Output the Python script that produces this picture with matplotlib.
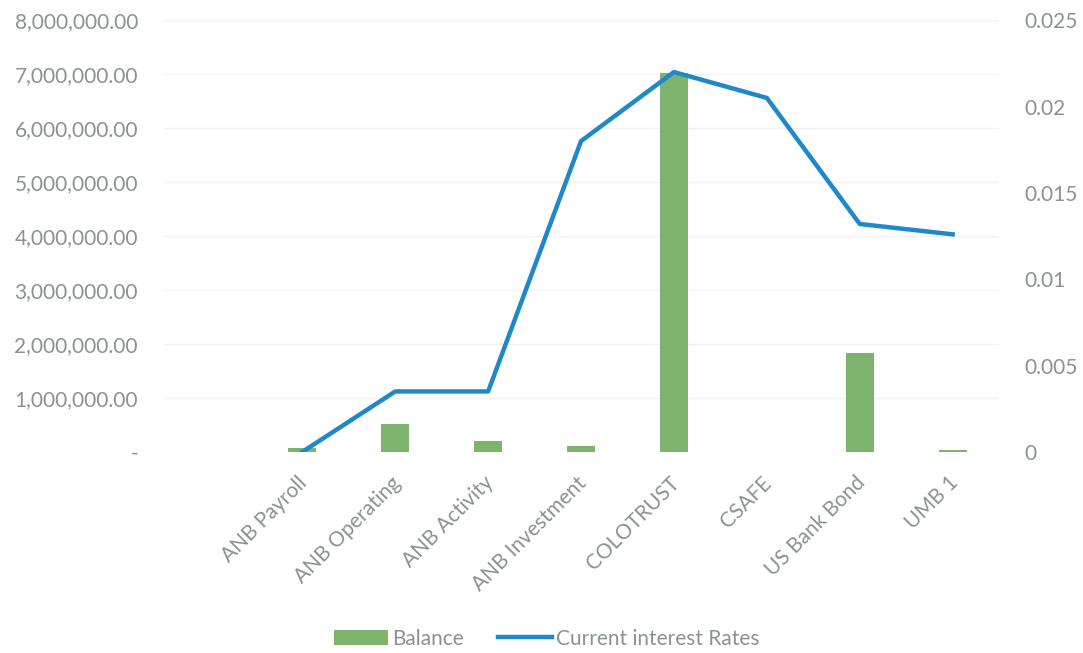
import matplotlib.pyplot as plt
import matplotlib.transforms as mtransforms
import numpy as np
from matplotlib.ticker import FuncFormatter

plt.rcParams['font.family'] = ['Lato', 'DejaVu Sans']

# first slot is an empty category in the source chart
accounts = ["", "ANB Payroll", "ANB Operating", "ANB Activity", "ANB Investment",
            "COLOTRUST", "CSAFE", "US Bank Bond", "UMB 1"]
balance = [np.nan, 70000, 520000, 200000, 110000, 7020000, 0, 1830000, 40000]
rates = [np.nan, 0.0, 0.0035, 0.0035, 0.018, 0.022, 0.0205, 0.0132, 0.0126]

grey = "#8c9191"
green = "#7db36d"
blue = "#1f88c9"

fig = plt.figure(figsize=(10.83, 6.53), dpi=100)
ax = fig.add_axes([0.1505, 0.308, 0.772, 0.661])
ax2 = ax.twinx()

x = np.arange(len(accounts))
ax.bar(x, balance, width=0.3, color=green, label="Balance", zorder=2)
ax2.plot(x, rates, color=blue, lw=3.2, label="Current interest Rates", zorder=3)

ax.set_xlim(-0.5, len(accounts) - 0.5)
ax.set_ylim(0, 8000000)
ax.set_yticks(np.arange(0, 8000001, 1000000))
ax.yaxis.set_major_formatter(FuncFormatter(lambda v, p: "-" if v == 0 else f"{v:,.2f}"))
ax2.set_ylim(0, 0.025)
ax2.set_yticks([0, 0.005, 0.01, 0.015, 0.02, 0.025])
ax2.set_yticklabels(["0", "0.005", "0.01", "0.015", "0.02", "0.025"])

ax.grid(axis="y", color="#f2f2f2", lw=1, zorder=0)
ax.set_xticks(x)
ax.set_xticklabels(accounts, rotation=45, ha="right", rotation_mode="anchor")

for a in (ax, ax2):
    for s in a.spines.values():
        s.set_visible(False)
    a.tick_params(length=0, labelsize=15, labelcolor=grey)
ax.tick_params(axis="y", pad=18)
ax.tick_params(axis="x", pad=15)
ax2.tick_params(axis="y", pad=18)

# nudge category labels a little to the left
shift = mtransforms.ScaledTranslation(-0.05, 0, fig.dpi_scale_trans)
for lbl in ax.get_xticklabels():
    lbl.set_transform(lbl.get_transform() + shift)

h1, l1 = ax.get_legend_handles_labels()
h2, l2 = ax2.get_legend_handles_labels()
leg = fig.legend(h1 + h2, l1 + l2, loc="center", bbox_to_anchor=(0.505, 0.022), ncol=2,
                 frameon=False, fontsize=15, handlelength=2.6, handletextpad=0.2,
                 columnspacing=1.6)
for t in leg.get_texts():
    t.set_color(grey)

fig.savefig("out.png", dpi=100)
